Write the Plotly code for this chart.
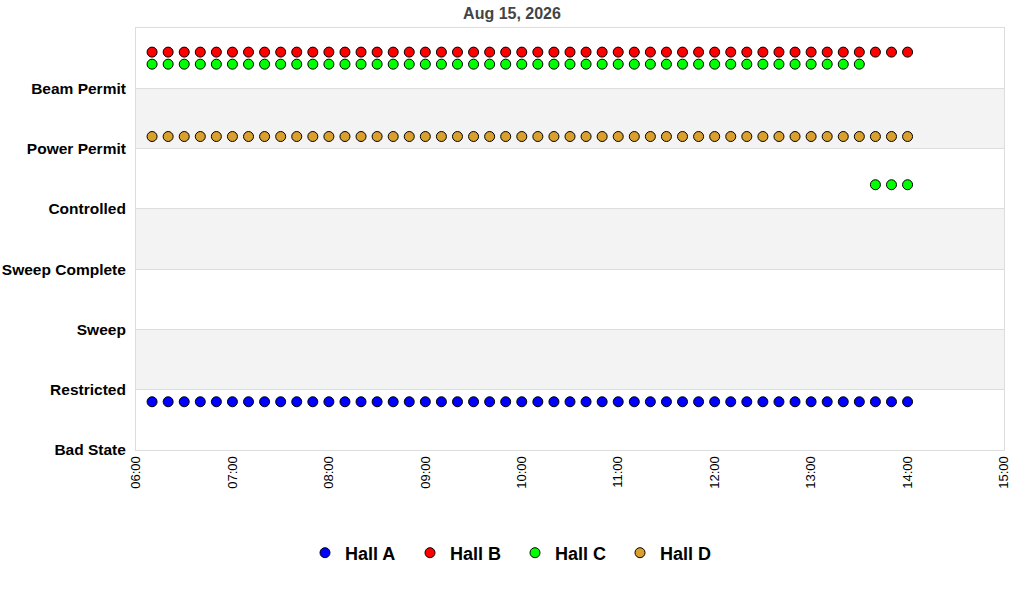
import plotly.graph_objects as go
import pandas as pd

state_labels = ["Bad State", "Restricted", "Sweep", "Sweep Complete", "Controlled", "Power Permit", "Beam Permit"]

times = pd.date_range("2026-08-15 06:10", "2026-08-15 14:00", freq="10min")

hall_names = ["Hall A", "Hall B", "Hall C", "Hall D"]
hall_colors = ["#0000ff", "#ff0000", "#00ff00", "#daa02d"]
hall_offsets = [-0.2, 0.6, 0.4, 0.2]

hall_a_state = ["Restricted"] * 48
hall_b_state = ["Beam Permit"] * 48
hall_c_state = ["Beam Permit"] * 45 + ["Controlled"] * 3
hall_d_state = ["Power Permit"] * 48
hall_states = [hall_a_state, hall_b_state, hall_c_state, hall_d_state]

fig = go.Figure()
for name, color, off, states in zip(hall_names, hall_colors, hall_offsets, hall_states):
    yv = [state_labels.index(s) + off for s in states]
    fig.add_trace(go.Scatter(
        x=times, y=yv, mode="markers", name="<b>%s</b>" % name,
        marker=dict(color=color, size=10, symbol="circle", line=dict(color="black", width=1)),
    ))

shapes = []
for lo in [1, 3, 5]:
    shapes.append(dict(type="rect", xref="paper", yref="y", x0=0, x1=1, y0=lo, y1=lo + 1,
                       fillcolor="#f3f3f3", line=dict(width=0), layer="below"))

W, H = 1024, 600
fig.update_layout(
    width=W, height=H,
    margin=dict(l=136, r=20, t=28, b=150, autoexpand=False),
    paper_bgcolor="white", plot_bgcolor="white",
    shapes=shapes,
    title=dict(text="<b>Aug 15, 2026</b>", x=0.5, xanchor="center", xref="container",
               y=1 - 13 / H, yanchor="middle",
               font=dict(family="Liberation Sans, Arial", size=16, color="#444444")),
    font=dict(family="Liberation Sans, Arial", color="black"),
    showlegend=True,
    legend=dict(orientation="h", xref="container", x=0.5 + 3 / W, xanchor="center",
                y=-103 / 422, yanchor="middle",
                font=dict(family="Liberation Sans, Arial", size=18, color="black"),
                itemwidth=30, entrywidth=60, entrywidthmode="pixels"),
)

fig.update_xaxes(
    type="date",
    range=["2026-08-15 06:00", "2026-08-15 15:00"],
    dtick=3600000, tickformat="%H:%M", tickangle=-90,
    tickfont=dict(family="Liberation Sans, Arial", size=13, color="black"),
    showgrid=False, zeroline=False,
    showline=True, linecolor="#dddddd", linewidth=1, mirror=True,
    ticks="", automargin=False,
)
fig.update_yaxes(
    range=[0, 7],
    tickmode="array", tickvals=list(range(7)),
    ticktext=["<b>%s</b>" % s for s in state_labels],
    tickfont=dict(family="Liberation Sans, Arial", size=15.5, color="black"),
    showgrid=True, gridcolor="#dddddd", zeroline=False,
    showline=True, linecolor="#dddddd", linewidth=1, mirror=True,
    ticks="", ticklabelstandoff=6, automargin=False,
)

fig.write_html("out.html", config={"displayModeBar": False},
               post_script="document.body.style.margin='0';")
